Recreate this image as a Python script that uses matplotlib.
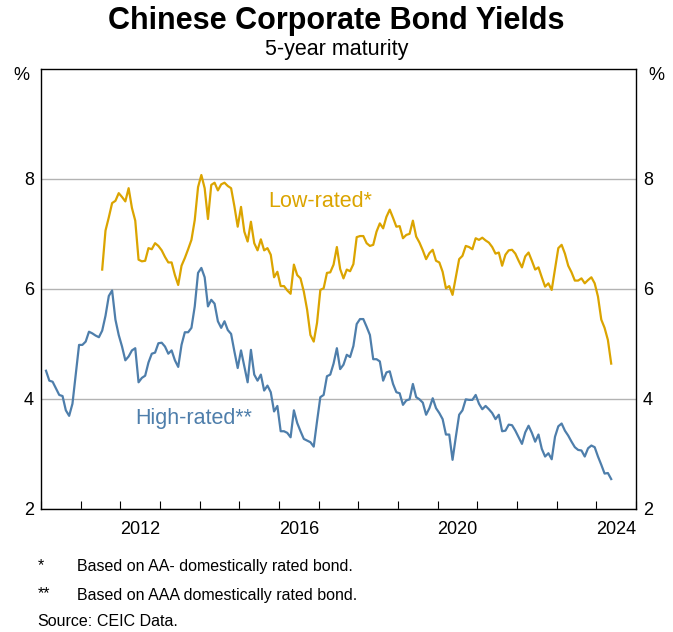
import matplotlib.pyplot as plt
import numpy as np
import pandas as pd

plt.rcParams['font.family'] = ['Liberation Sans', 'DejaVu Sans']

# Rendimientos mensuales (%), lectura aproximada del gráfico
high_rated = [
    4.51, 4.33, 4.31, 4.19, 4.07, 4.05, 3.79, 3.69, 3.91, 4.44, 4.98, 4.98,
    5.04, 5.22, 5.19, 5.15, 5.12, 5.24, 5.51, 5.87, 5.97, 5.44, 5.16, 4.95,
    4.70, 4.77, 4.88, 4.92, 4.30, 4.38, 4.42, 4.66, 4.82, 4.84, 5.01, 5.02,
    4.95, 4.82, 4.88, 4.70, 4.58, 4.98, 5.21, 5.21, 5.29, 5.68, 6.29, 6.38,
    6.21, 5.68, 5.80, 5.73, 5.41, 5.29, 5.41, 5.25, 5.18, 4.86, 4.56, 4.88,
    4.59, 4.30, 4.89, 4.44, 4.33, 4.44, 4.15, 4.24, 4.12, 3.77, 3.87, 3.41,
    3.41, 3.38, 3.30, 3.79, 3.56, 3.41, 3.27, 3.24, 3.21, 3.13, 3.59, 4.03,
    4.07, 4.41, 4.44, 4.64, 4.92, 4.54, 4.62, 4.80, 4.76, 4.96, 5.36, 5.45,
    5.45, 5.31, 5.16, 4.72, 4.72, 4.68, 4.33, 4.48, 4.50, 4.27, 4.12, 4.10,
    3.89, 3.97, 3.99, 4.27, 4.03, 3.99, 3.93, 3.71, 3.83, 4.01, 3.83, 3.74,
    3.63, 3.35, 3.35, 2.89, 3.31, 3.71, 3.79, 3.99, 3.98, 3.98, 4.07, 3.91,
    3.81, 3.87, 3.81, 3.74, 3.63, 3.71, 3.41, 3.42, 3.53, 3.52, 3.42, 3.30,
    3.18, 3.39, 3.51, 3.38, 3.22, 3.35, 3.09, 2.95, 3.01, 2.90, 3.31, 3.50,
    3.55, 3.42, 3.33, 3.22, 3.12, 3.07, 3.06, 2.95, 3.10, 3.15, 3.12, 2.95,
    2.80, 2.64, 2.65, 2.54,
]

low_rated = [
    6.35, 7.06, 7.30, 7.56, 7.60, 7.74, 7.67, 7.59, 7.83, 7.47, 7.24, 6.53,
    6.50, 6.51, 6.74, 6.72, 6.83, 6.78, 6.70, 6.58, 6.48, 6.48, 6.25, 6.07,
    6.42, 6.56, 6.72, 6.89, 7.25, 7.85, 8.07, 7.83, 7.27, 7.89, 7.93, 7.79,
    7.90, 7.93, 7.87, 7.83, 7.50, 7.13, 7.49, 7.04, 6.86, 7.22, 6.83, 6.70,
    6.90, 6.70, 6.74, 6.62, 6.21, 6.31, 6.05, 6.05, 5.97, 5.91, 6.44, 6.25,
    6.19, 5.95, 5.62, 5.16, 5.04, 5.38, 5.98, 6.01, 6.29, 6.30, 6.44, 6.76,
    6.36, 6.19, 6.35, 6.32, 6.45, 6.94, 6.96, 6.96, 6.83, 6.78, 6.80, 7.04,
    7.19, 7.10, 7.31, 7.44, 7.29, 7.13, 7.14, 6.92, 6.98, 7.00, 7.24, 6.95,
    6.84, 6.70, 6.54, 6.65, 6.71, 6.51, 6.48, 6.31, 6.01, 6.05, 5.89, 6.21,
    6.54, 6.60, 6.78, 6.76, 6.72, 6.92, 6.89, 6.93, 6.88, 6.84, 6.76, 6.64,
    6.66, 6.42, 6.62, 6.70, 6.71, 6.64, 6.51, 6.39, 6.59, 6.66, 6.51, 6.35,
    6.39, 6.21, 6.04, 6.10, 5.98, 6.36, 6.74, 6.80, 6.64, 6.42, 6.30, 6.15,
    6.15, 6.19, 6.10, 6.16, 6.21, 6.10, 5.86, 5.44, 5.29, 5.07, 4.64,
]

last_month = '2024-05-01'
year_labels = [2012, 2016, 2020, 2024]
y_ticks = [2, 4, 6, 8]

gold = '#DBA400'
blue = '#4E7EAB'


def to_year(vals):
    d = pd.date_range(end=last_month, periods=len(vals), freq='MS')
    return d.year + (d.month - 0.5) / 12


fig = plt.figure(figsize=(6.73, 6.32), dpi=100)
ax = fig.add_axes([0.061, 0.195, 0.884, 0.696])

ax.plot(to_year(high_rated), high_rated, color=blue, lw=1.6)
ax.plot(to_year(low_rated), low_rated, color=gold, lw=1.6)

ax.set_xlim(2010, 2025)
ax.set_ylim(2, 10)

# ticks anuales en el borde inferior, etiquetas a mitad de año
ax.set_xticks(np.arange(2010, 2026), minor=False)
ax.set_xticklabels([])
ax.set_xticks([y + 0.5 for y in year_labels], minor=True)
ax.set_xticklabels([str(y) for y in year_labels], minor=True)
ax.tick_params(axis='x', which='major', direction='in', length=6, width=0.8)
ax.tick_params(axis='x', which='minor', length=0, labelsize=13, pad=9)

ax.set_yticks(y_ticks)
ax.set_yticklabels([str(t) for t in y_ticks])
ax.tick_params(axis='y', length=0, labelsize=13, pad=5,
               labelleft=True, labelright=True)
ax.yaxis.grid(True, color='#b3b3b3', lw=1)
ax.set_axisbelow(True)

for s in ax.spines.values():
    s.set_color('black')
    s.set_linewidth(1)

ax.text(-0.02, 0.985, '%', transform=ax.transAxes, ha='right', va='center', fontsize=13)
ax.text(1.02, 0.985, '%', transform=ax.transAxes, ha='left', va='center', fontsize=13)

ax.text(2015.72, 7.58, 'Low-rated*', color=gold, fontsize=15.5, va='center')
ax.text(2012.38, 3.65, 'High-rated**', color=blue, fontsize=15.5, va='center')

fig.text(0.5, 0.966, 'Chinese Corporate Bond Yields', ha='center', va='center',
         fontsize=22, fontweight='bold')
fig.text(0.5, 0.922, '5-year maturity', ha='center', va='center', fontsize=15.5)

fig.text(0.056, 0.105, '*', ha='left', va='center', fontsize=11.5)
fig.text(0.114, 0.103, 'Based on AA- domestically rated bond.', ha='left', va='center', fontsize=11.5)
fig.text(0.056, 0.060, '**', ha='left', va='center', fontsize=11.5)
fig.text(0.114, 0.058, 'Based on AAA domestically rated bond.', ha='left', va='center', fontsize=11.5)
fig.text(0.056, 0.016, 'Source:', ha='left', va='center', fontsize=11.5)
fig.text(0.144, 0.016, 'CEIC Data.', ha='left', va='center', fontsize=11.5)

fig.savefig('out.png', dpi=100)
